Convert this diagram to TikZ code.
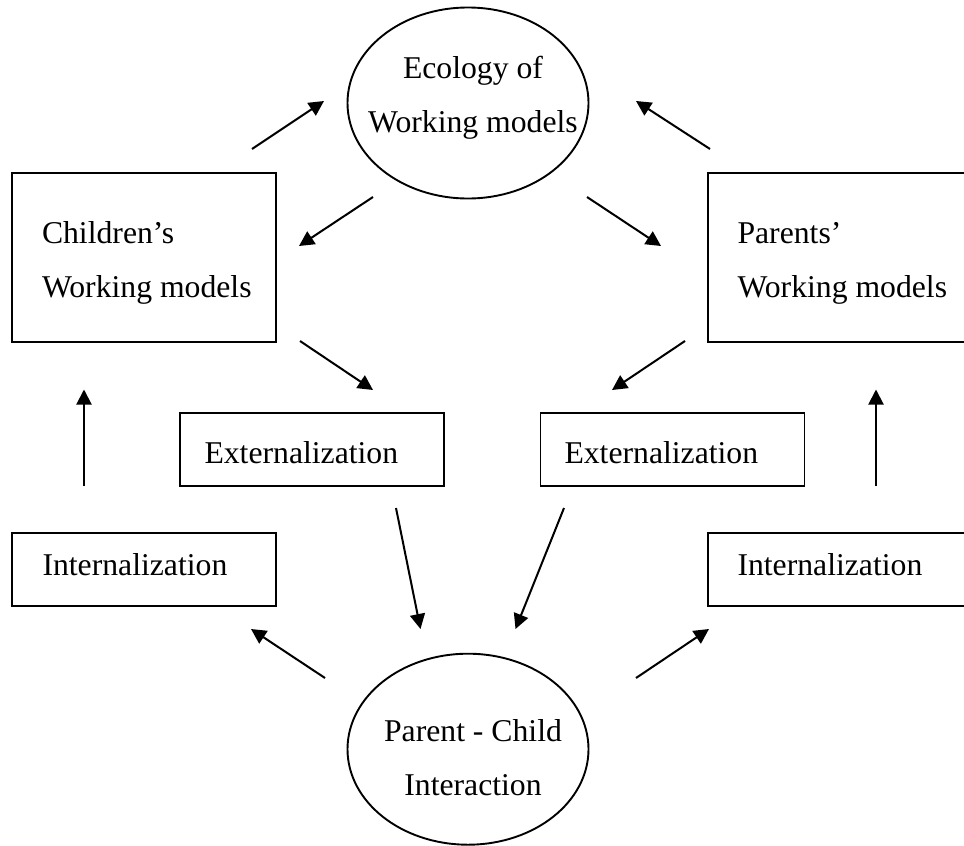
\documentclass[tikz,border=0pt]{standalone}
\usepackage{fontspec}
\setmainfont{Liberation Serif}
\usetikzlibrary{shapes.geometric,arrows.meta}
\begin{document}
\begin{tikzpicture}[x=1pt,y=-1pt,
  every node/.style={font=\fontsize{31.7}{54}\selectfont, inner sep=0pt, outer sep=0pt},
  box/.style={draw, line width=1.9pt, rectangle, minimum width=264pt},
  oval/.style={draw, line width=1.9pt, ellipse, minimum width=241pt, minimum height=191pt},
  arr/.style={line width=2pt, -{Triangle[length=15pt,width=15pt]}}]
\clip (0,0) rectangle (964,846);

% ovals
\node[oval] (eco) at (468,103) {};
\node[align=center] (ecot) at (473,97.6) {Ecology of\\Working models};
\node[oval] (pc) at (468,749.2) {};
\node[align=center] (pct) at (473,757.7) {Parent - Child\\Interaction};

% working-model boxes
\node[box, minimum height=168.4pt] (cwm) at (144.1,257.5) {};
\node[align=left, anchor=west] (cwmt) at (42,263.1) {Children’s\\Working models};
\node[box, minimum height=168.4pt] (pwm) at (840.3,257.5) {};
\node[align=left, anchor=west] (pwmt) at (737.5,263.2) {Parents’\\Working models};

% externalization boxes
\node[box, minimum height=73pt] (extl) at (312.2,449.8) {};
\node[anchor=base west] (extlt) at (204.5,463.3) {Externalization};
\node[box, minimum height=73pt] (extr) at (672.5,449.8) {};
\node[anchor=base west] (extrt) at (564.5,463.3) {Externalization};

% internalization boxes
\node[box, minimum height=72.4pt] (intl) at (144.2,569.5) {};
\node[anchor=base west] (intlt) at (42.5,575) {Internalization};
\node[box, minimum height=72.4pt] (intr) at (839.7,569.5) {};
\node[anchor=base west] (intrt) at (737.5,575) {Internalization};

% arrow end points
\coordinate (a1s) at (252,149);  \coordinate (a1e) at (324,101);
\coordinate (a2s) at (710,149);  \coordinate (a2e) at (636,101);
\coordinate (a3s) at (373,197);  \coordinate (a3e) at (299,246);
\coordinate (a4s) at (587,197);  \coordinate (a4e) at (661,246);
\coordinate (a5s) at (300,341);  \coordinate (a5e) at (373,390);
\coordinate (a6s) at (685,341);  \coordinate (a6e) at (612,390);
\coordinate (a7s) at (84,486);   \coordinate (a7e) at (84,389.5);
\coordinate (a8s) at (876,486);  \coordinate (a8e) at (876,389.5);
\coordinate (a9s) at (396,508);  \coordinate (a9e) at (420.5,629);
\coordinate (a10s) at (564,508); \coordinate (a10e) at (515.5,629);
\coordinate (a11s) at (325,678); \coordinate (a11e) at (251,629);
\coordinate (a12s) at (636,678); \coordinate (a12e) at (709,629);

% arrows
\foreach \i in {1,...,12}
  \draw[arr] (a\i s) -- (a\i e);
\end{tikzpicture}
\end{document}
